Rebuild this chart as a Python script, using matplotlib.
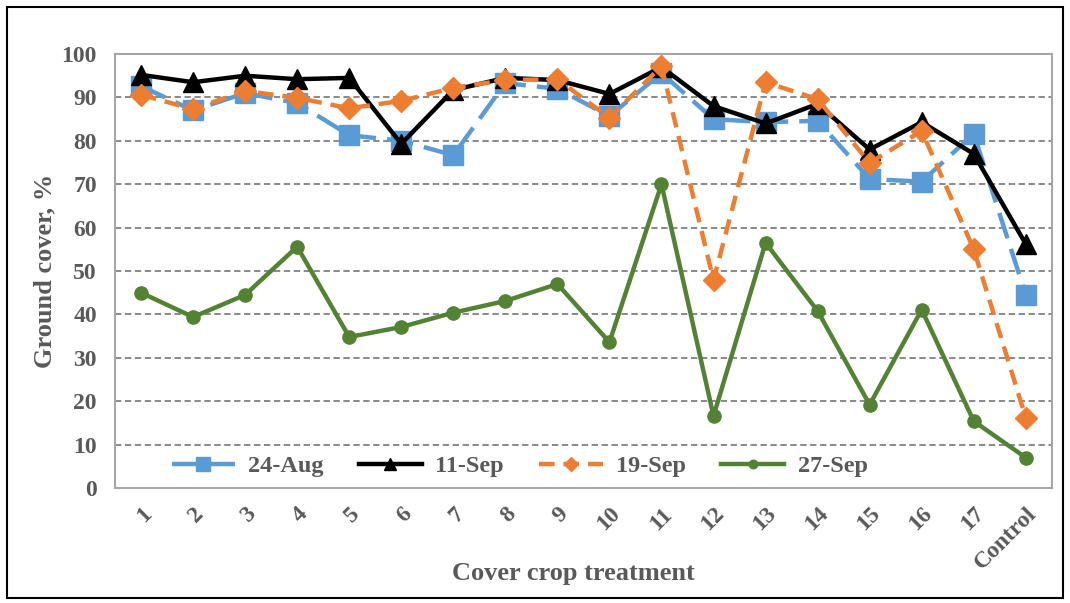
import numpy as np
import matplotlib
matplotlib.use("Agg")
import matplotlib.pyplot as plt
from matplotlib.patches import Rectangle

# Treatments on the x axis
treatments = [str(i) for i in range(1, 18)] + ["Control"]

# Ground cover (%) per sampling date
aug24 = [92.6, 87.0, 91.0, 88.7, 81.3, 80.0, 76.7, 93.3, 92.0, 85.7,
         95.6, 85.0, 84.3, 84.6, 71.2, 70.6, 81.6, 44.5]
sep11 = [95.2, 93.5, 95.0, 94.2, 94.5, 79.3, 91.7, 94.5, 94.0, 90.8,
         97.0, 88.0, 84.0, 88.5, 78.0, 84.3, 77.0, 56.2]
sep19 = [90.6, 87.3, 91.5, 89.9, 87.5, 89.2, 92.2, 94.0, 94.2, 85.3,
         97.2, 47.9, 93.5, 89.6, 74.9, 82.3, 55.0, 16.2]
sep27 = [45.0, 39.4, 44.5, 55.6, 34.8, 37.1, 40.4, 43.1, 47.0, 33.6,
         70.0, 16.6, 56.5, 40.8, 19.2, 41.1, 15.4, 7.0]

grey = "#595959"
plt.rcParams["font.family"] = ["Liberation Serif", "DejaVu Serif"]
plt.rcParams["font.weight"] = "bold"

fig = plt.figure(figsize=(10.7, 6.03), dpi=100)
ax = fig.add_axes([0.1075, 0.1907, 0.8755, 0.7197])

x = np.arange(len(treatments))

ax.plot(x, aug24, color="#5B9BD5", lw=3.2, dashes=(6, 2.5), marker="s",
        ms=15, label="24-Aug", zorder=3)
ax.plot(x, sep11, color="black", lw=3.2, marker="^", ms=14,
        label="11-Sep", zorder=4)
ax.plot(x, sep19, color="#ED7D31", lw=3.2, dashes=(3.5, 2), marker="D",
        ms=11, label="19-Sep", zorder=5)
ax.plot(x, sep27, color="#548235", lw=3.2, marker="o", ms=9.5,
        label="27-Sep", zorder=6)

ax.set_xlim(-0.5, len(treatments) - 0.5)
ax.set_ylim(0, 100)
ax.set_yticks(np.arange(0, 101, 10))
ax.set_xticks(x)
ax.set_xticklabels(treatments, rotation=45, ha="right", va="top",
                   rotation_mode="anchor")
ax.tick_params(axis="both", length=0, labelsize=17, labelcolor=grey)
ax.tick_params(axis="x", pad=11)
ax.tick_params(axis="y", pad=13)

# dashed horizontal gridlines
ax.yaxis.grid(True, color="#808080", lw=1.3, linestyle=(0, (3.5, 2)))
ax.set_axisbelow(True)
for s in ax.spines.values():
    s.set_color("#A6A6A6")
    s.set_linewidth(1.5)

ax.set_ylabel("Ground cover, %", fontsize=19, fontweight="bold", color=grey,
              va="center")
ax.yaxis.set_label_coords(-0.0747, 0.5)
ax.set_xlabel("Cover crop treatment", fontsize=19, fontweight="bold",
              color=grey, va="center")
ax.xaxis.set_label_coords(0.489, -0.196)

leg = ax.legend(loc="center left", bbox_to_anchor=(0.05, 0.05), ncol=4,
                frameon=False, fontsize=17.5, handlelength=2.6,
                columnspacing=1.45, handletextpad=0.55, markerscale=0.65,
                borderaxespad=0)
for t in leg.get_texts():
    t.set_color(grey)

# chart border
fig.patches.append(Rectangle((0.0065, 0.008), 0.987, 0.98, transform=fig.transFigure,
                             fill=False, edgecolor="black", lw=1.5))

fig.savefig("out.png", dpi=100)
